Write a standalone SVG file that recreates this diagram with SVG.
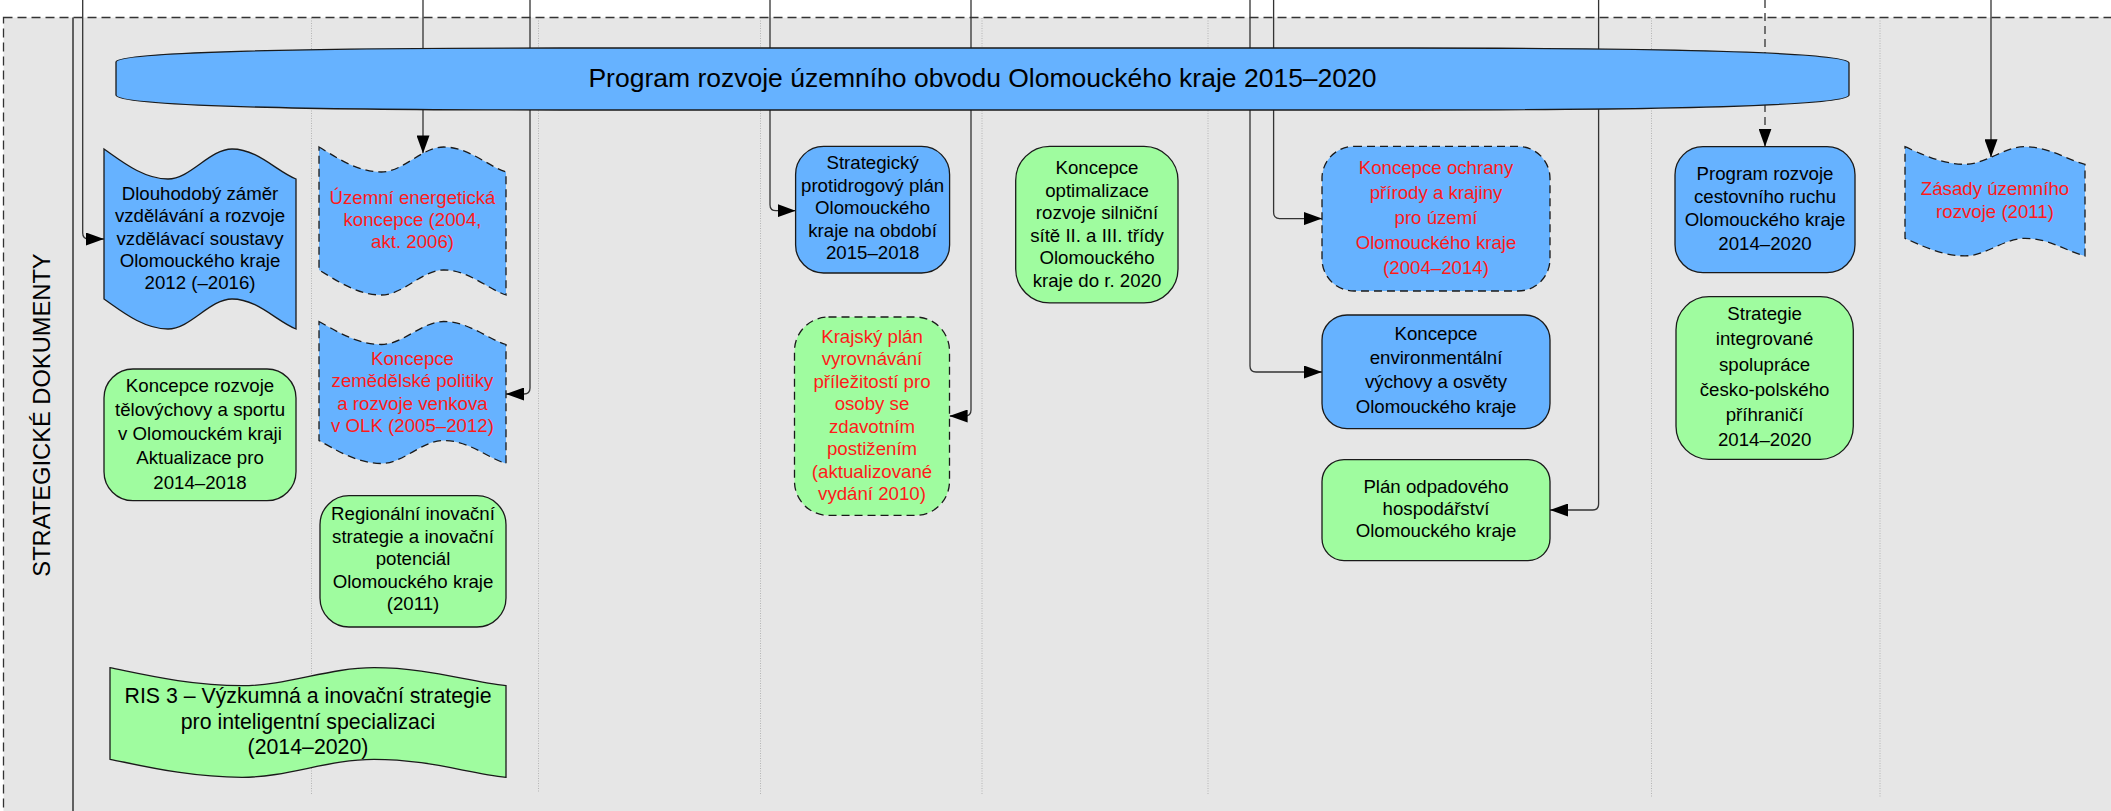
<svg xmlns="http://www.w3.org/2000/svg" width="2111" height="811" viewBox="0 0 2111 811">
<style>
text{font-family:"Liberation Sans",Arial,sans-serif;font-size:18.67px;fill:#000;text-anchor:middle}
.red{fill:#ff1a1a}
.blue{fill:#66b2ff;stroke:#1a1a1a;stroke-width:1.3}
.green{fill:#9ffc9f;stroke:#1a1a1a;stroke-width:1.3}
.dash{stroke-dasharray:8,5}
.lane{stroke:#b4b4b4;stroke-width:1;stroke-dasharray:1,1.5;fill:none}
.conn{fill:none;stroke:#333;stroke-width:1.3;marker-end:url(#arr)}
</style>
<defs>
<marker id="arr" viewBox="0 0 18 13" refX="18" refY="6.5" markerWidth="18" markerHeight="13" markerUnits="userSpaceOnUse" orient="auto">
<path d="M0,0 L18,6.5 L0,13 Z" fill="#000"/>
</marker>
</defs>
<rect x="0" y="0" width="2111" height="811" fill="#fff"/>
<g id="pool">
<rect x="3.5" y="17.5" width="2130" height="820" fill="#e6e6e6" stroke="#333" stroke-width="1.3" stroke-dasharray="9,5"/>
<line x1="73" y1="17.5" x2="73" y2="811" stroke="#333" stroke-width="1.5"/>
<text transform="translate(49.5,415) rotate(-90)" style="font-size:23.7px">STRATEGICKÉ DOKUMENTY</text>
</g>
<g id="lanes">
<line class="lane" x1="311.5" y1="18" x2="311.5" y2="795"/>
<line class="lane" x1="538.5" y1="18" x2="538.5" y2="793"/>
<line class="lane" x1="760.5" y1="18" x2="760.5" y2="795"/>
<line class="lane" x1="982" y1="18" x2="982" y2="795"/>
<line class="lane" x1="1208" y1="18" x2="1208" y2="795"/>
<line class="lane" x1="1651.5" y1="18" x2="1651.5" y2="797"/>
<line class="lane" x1="1880" y1="18" x2="1880" y2="798"/>
</g>
<g id="connectors">
<path class="conn" d="M82.7,0 V233 Q82.7,239 88.7,239 H104"/>
<path class="conn" d="M423,0 V153.4"/>
<path class="conn" d="M530,0 V388 Q530,394 524,394 H506"/>
<path class="conn" d="M770,0 V204.7 Q770,210.7 776,210.7 H795.6"/>
<path class="conn" d="M971,0 V410 Q971,416 965,416 H949.6"/>
<path class="conn" d="M1273.6,0 V212.6 Q1273.6,218.6 1279.6,218.6 H1322"/>
<path class="conn" d="M1250,0 V366 Q1250,372 1256,372 H1322"/>
<path class="conn" d="M1598.6,0 V504 Q1598.6,510 1592.6,510 H1550"/>
<path class="conn" d="M1765,0 V146.7" stroke-dasharray="8,5"/>
<path class="conn" d="M1991,0 V157.3"/>
</g>
<g id="program">
<path class="blue" d="M116,62 C116,52 300,48 560,48 L1410,48 C1660,48 1849,52 1849,63 L1849,95 C1849,106 1660,110 1410,110 L560,110 C300,110 116,106 116,95 Z"/>
<text x="982.5" y="87" style="font-size:26.5px">Program rozvoje územního obvodu Olomouckého kraje 2015–2020</text>
</g>
<g id="n1">
<path class="blue" d="M104,149 C119.4,159.5 142.4,179 168,179 C190.4,179 209.6,149 232,149 C257.6,149 276.8,171.5 296,179 L296,329 C276.8,321.5 257.6,299 232,299 C209.6,299 190.4,329 168,329 C142.4,329 119.4,309.5 104,299 Z"/>
<text x="200" y="200">Dlouhodobý záměr</text>
<text x="200" y="222.3">vzdělávání a rozvoje</text>
<text x="200" y="244.6">vzdělávací soustavy</text>
<text x="200" y="267">Olomouckého kraje</text>
<text x="200" y="289.3">2012 (–2016)</text>
</g>
<g id="n2">
<path class="blue dash" d="M319,147 C334,155.8 356.4,172 381.3,172 C403.2,172 421.9,147 443.7,147 C468.6,147 487.3,165.8 506,172 L506,295 C487.3,288.8 468.6,270 443.7,270 C421.9,270 403.2,295 381.3,295 C356.4,295 334,278.8 319,270 Z"/>
<text class="red" x="412.5" y="203.5">Územní energetická</text>
<text class="red" x="412.5" y="225.9">koncepce (2004,</text>
<text class="red" x="412.5" y="248.3">akt. 2006)</text>
</g>
<g id="n3">
<path class="blue dash" d="M319,321.5 C334,329.6 356.4,344.5 381.3,344.5 C403.2,344.5 421.9,321.5 443.7,321.5 C468.6,321.5 487.3,338.8 506,344.5 L506,463.5 C487.3,457.8 468.6,440.5 443.7,440.5 C421.9,440.5 403.2,463.5 381.3,463.5 C356.4,463.5 334,448.6 319,440.5 Z"/>
<text class="red" x="412.5" y="365">Koncepce</text>
<text class="red" x="412.5" y="387.4">zemědělské politiky</text>
<text class="red" x="412.5" y="409.8">a rozvoje venkova</text>
<text class="red" x="412.5" y="432.2">v OLK (2005–2012)</text>
</g>
<g id="n4">
<rect class="green" x="104" y="369" width="192" height="131.7" rx="29" ry="29"/>
<text x="200" y="391.7">Koncepce rozvoje</text>
<text x="200" y="415.9">tělovýchovy a sportu</text>
<text x="200" y="440.2">v Olomouckém kraji</text>
<text x="200" y="464.4">Aktualizace pro</text>
<text x="200" y="488.7">2014–2018</text>
</g>
<g id="n5">
<rect class="green" x="320" y="495.7" width="186" height="131.3" rx="29" ry="29"/>
<text x="413" y="520.3">Regionální inovační</text>
<text x="413" y="542.8">strategie a inovační</text>
<text x="413" y="565.3">potenciál</text>
<text x="413" y="587.8">Olomouckého kraje</text>
<text x="413" y="610.3">(2011)</text>
</g>
<g id="n6">
<path class="green" d="M110,667.7 C141.7,674 189.2,685.7 242,685.7 C288.2,685.7 327.8,667.7 374,667.7 C426.8,667.7 466.4,681.2 506,685.7 L506,777.3 C466.4,772.8 426.8,759.3 374,759.3 C327.8,759.3 288.2,777.3 242,777.3 C189.2,777.3 141.7,765.6 110,759.3 Z"/>
<text x="308" y="703.4" style="font-size:21.3px">RIS 3 – Výzkumná a inovační strategie</text>
<text x="308" y="728.8" style="font-size:21.3px">pro inteligentní specializaci</text>
<text x="308" y="754.1" style="font-size:21.3px">(2014–2020)</text>
</g>
<g id="n7">
<rect class="blue" x="795.6" y="146.4" width="154" height="126.6" rx="28" ry="28"/>
<text x="872.6" y="169">Strategický</text>
<text x="872.6" y="191.5">protidrogový plán</text>
<text x="872.6" y="214">Olomouckého</text>
<text x="872.6" y="236.6">kraje na období</text>
<text x="872.6" y="259.1">2015–2018</text>
</g>
<g id="n8">
<rect class="green dash" x="794.5" y="317" width="155" height="198.4" rx="34" ry="34"/>
<text class="red" x="872" y="342.8">Krajský plán</text>
<text class="red" x="872" y="365.3">vyrovnávání</text>
<text class="red" x="872" y="387.7">příležitostí pro</text>
<text class="red" x="872" y="410.2">osoby se</text>
<text class="red" x="872" y="432.6">zdavotním</text>
<text class="red" x="872" y="455.1">postižením</text>
<text class="red" x="872" y="477.6">(aktualizované</text>
<text class="red" x="872" y="500">vydání 2010)</text>
</g>
<g id="n9">
<rect class="green" x="1015.7" y="146.4" width="162.3" height="156.5" rx="34" ry="34"/>
<text x="1097" y="174">Koncepce</text>
<text x="1097" y="196.5">optimalizace</text>
<text x="1097" y="219">rozvoje silniční</text>
<text x="1097" y="241.5">sítě II. a III. třídy</text>
<text x="1097" y="264">Olomouckého</text>
<text x="1097" y="286.5">kraje do r. 2020</text>
</g>
<g id="n10">
<rect class="blue dash" x="1322" y="146.4" width="228" height="144.6" rx="32" ry="32"/>
<text class="red" x="1436" y="174">Koncepce ochrany</text>
<text class="red" x="1436" y="199.1">přírody a krajiny</text>
<text class="red" x="1436" y="224.2">pro území</text>
<text class="red" x="1436" y="249.3">Olomouckého kraje</text>
<text class="red" x="1436" y="274.4">(2004–2014)</text>
</g>
<g id="n11">
<rect class="blue" x="1322" y="315" width="228" height="113.6" rx="25" ry="25"/>
<text x="1436" y="340">Koncepce</text>
<text x="1436" y="364.2">environmentální</text>
<text x="1436" y="388.4">výchovy a osvěty</text>
<text x="1436" y="412.6">Olomouckého kraje</text>
</g>
<g id="n12">
<rect class="green" x="1322" y="459.6" width="228" height="101" rx="22" ry="22"/>
<text x="1436" y="492.8">Plán odpadového</text>
<text x="1436" y="515.1">hospodářství</text>
<text x="1436" y="537.4">Olomouckého kraje</text>
</g>
<g id="n13">
<rect class="blue" x="1675" y="146.7" width="180" height="126" rx="28" ry="28"/>
<text x="1765" y="179.8">Program rozvoje</text>
<text x="1765" y="203.1">cestovního ruchu</text>
<text x="1765" y="226.4">Olomouckého kraje</text>
<text x="1765" y="249.7">2014–2020</text>
</g>
<g id="n14">
<rect class="green" x="1676" y="296.7" width="177.3" height="162.6" rx="33" ry="33"/>
<text x="1764.6" y="320.3">Strategie</text>
<text x="1764.6" y="345.4">integrované</text>
<text x="1764.6" y="370.5">spolupráce</text>
<text x="1764.6" y="395.6">česko-polského</text>
<text x="1764.6" y="420.7">příhraničí</text>
<text x="1764.6" y="445.8">2014–2020</text>
</g>
<g id="n15">
<path class="blue dash" d="M1905,146.7 C1919.4,152.9 1941,164.3 1965,164.3 C1986,164.3 2004,146.7 2025,146.7 C2049,146.7 2067,159.9 2085,164.3 L2085,255.9 C2067,251.5 2049,238.3 2025,238.3 C2004,238.3 1986,255.9 1965,255.9 C1941,255.9 1919.4,244.5 1905,238.3 Z"/>
<text class="red" x="1995" y="195.3">Zásady územního</text>
<text class="red" x="1995" y="217.7">rozvoje (2011)</text>
</g>
</svg>
